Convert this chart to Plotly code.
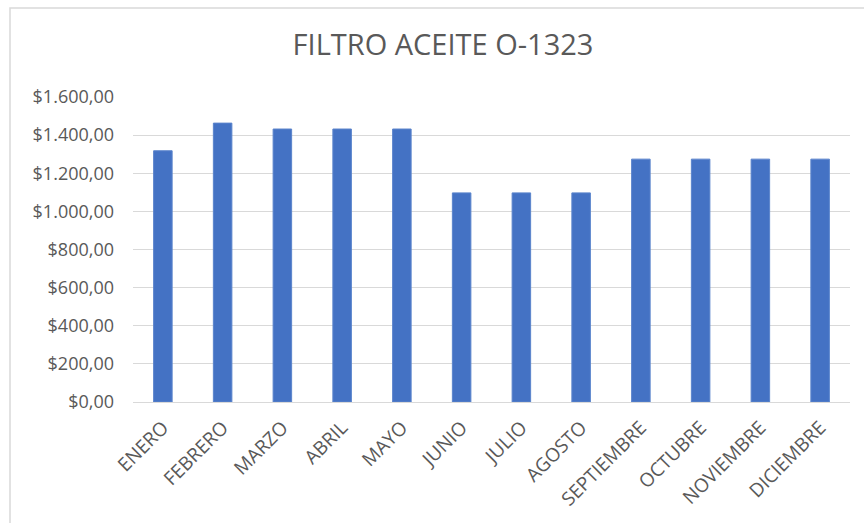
import plotly.graph_objects as go

months = ["ENERO", "FEBRERO", "MARZO", "ABRIL", "MAYO", "JUNIO", "JULIO",
          "AGOSTO", "SEPTIEMBRE", "OCTUBRE", "NOVIEMBRE", "DICIEMBRE"]
prices = [1318, 1463, 1432, 1432, 1432, 1097, 1097, 1097, 1274, 1274, 1274, 1274]
y_ticks = [0, 200, 400, 600, 800, 1000, 1200, 1400, 1600]


def es_money(v):
    s = f"{v:,.2f}"
    s = s.replace(",", "X").replace(".", ",").replace("X", ".")
    return "$" + s


y_ticktext = [es_money(v) for v in y_ticks]

FONT = "Open Sans"
GRAY = "#595959"

fig = go.Figure(go.Bar(
    x=months, y=prices,
    marker=dict(color="#4472C4", line=dict(color="#5b84cc", width=1)),
))

fig.update_layout(
    width=864, height=523,
    margin=dict(l=133, r=14, t=97, b=121),
    paper_bgcolor="white", plot_bgcolor="white",
    bargap=0.69,
    showlegend=False,
    title=dict(text="FILTRO ACEITE O-1323", x=443/864, xanchor="center",
               y=1 - 45/523, yanchor="middle",
               font=dict(family=FONT, size=29, color=GRAY)),
    font=dict(family=FONT, color=GRAY),
    xaxis=dict(tickangle=-45, tickfont=dict(size=19, color=GRAY),
               showline=True, linecolor="#d9d9d9", linewidth=1,
               ticks="outside", ticklen=6, tickcolor="rgba(0,0,0,0)",
               automargin=False),
    yaxis=dict(range=[0, 1600], tickvals=y_ticks, ticktext=y_ticktext,
               tickfont=dict(size=18, color=GRAY),
               gridcolor="#d9d9d9", gridwidth=1, zeroline=False,
               showline=False, ticks="", ticklabelstandoff=18,
               automargin=False),
    shapes=[dict(type="rect", xref="paper", yref="paper",
                 x0=(10 - 133) / 717, x1=1.2, y0=-0.5, y1=(402 - 8) / 305,
                 line=dict(color="#d9d9d9", width=1.5), layer="below")],
)

fig.write_html("out.html",
               config={"displayModeBar": False},
               post_script="document.body.style.margin='0px';"
                           "document.body.style.overflow='hidden';")
